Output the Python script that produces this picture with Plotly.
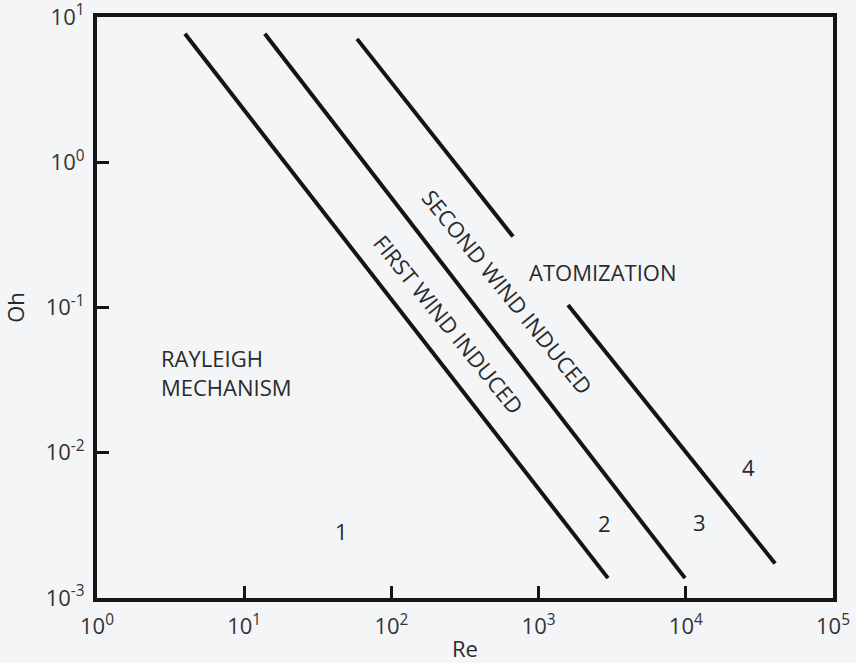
import plotly.graph_objects as go

# Regime boundary lines (Re, Oh endpoints)
line1_re = [3.96, 2960]
line1_oh = [7.66, 1.37e-3]
line2_re = [13.8, 9880]
line2_oh = [7.66, 1.37e-3]
line3a_re = [58.4, 670]
line3a_oh = [7.07, 0.308]
line3b_re = [1585, 40400]
line3b_oh = [0.104, 1.73e-3]

x_tickvals = [1, 10, 100, 1000, 10000, 100000]
x_ticktext = ["10<sup>0</sup>", "10<sup>1</sup>", "10<sup>2</sup>", "10<sup>3</sup>", "10<sup>4</sup>", "10<sup>5</sup>"]
y_tickvals = [0.001, 0.01, 0.1, 1, 10]
y_ticktext = ["10<sup>-3</sup>", "10<sup>-2</sup>", "10<sup>-1</sup>", "10<sup>0</sup>", "10<sup>1</sup>"]

# Region labels: (text, log10 Re, log10 Oh, angle, xanchor)
labels = [
    ("ATOMIZATION", 3.438, -0.757, 0, "center"),
    ("RAYLEIGH<br>MECHANISM", 0.421, -1.448, 0, "left"),
    ("1", 1.658, -2.542, 0, "center"),
    ("2", 3.451, -2.487, 0, "center"),
    ("3", 4.096, -2.480, 0, "center"),
    ("4", 4.423, -2.097, 0, "center"),
    ("SECOND WIND INDUCED", 2.792, -0.894, 51, "center"),
    ("FIRST WIND INDUCED", 2.391, -1.113, 51, "center"),
]

FONT = "Open Sans"
INK = "#141414"
TXT = "#2a2a2a"
FS = 22

fig = go.Figure()
for xs, ys in [(line1_re, line1_oh), (line2_re, line2_oh), (line3a_re, line3a_oh), (line3b_re, line3b_oh)]:
    fig.add_trace(go.Scatter(x=xs, y=ys, mode="lines", line=dict(color=INK, width=4),
                             showlegend=False, hoverinfo="skip"))

for text, lx, ly, ang, xa in labels:
    fig.add_annotation(x=lx, y=ly, xref="x", yref="y", text=text, showarrow=False,
                       textangle=ang, xanchor=xa, align="left",
                       font=dict(family=FONT, size=FS, color=TXT))

fig.update_layout(
    width=856, height=663,
    margin=dict(l=97, r=23, t=17, b=65),
    paper_bgcolor="#f4f5f7", plot_bgcolor="#f4f5f7",
    font=dict(family=FONT, size=FS, color=TXT),
)
fig.update_xaxes(type="log", range=[0, 5], tickvals=x_tickvals, ticktext=x_ticktext,
                 automargin=False, ticklabeloverflow="allow",
                 showgrid=False, zeroline=False, showline=True, linewidth=4, linecolor=INK,
                 mirror=True, ticks="inside", ticklen=12, tickwidth=3, tickcolor=INK,
                 ticklabelstandoff=6,
                 title=dict(text="Re", standoff=8, font=dict(family=FONT, size=FS, color=TXT)),
                 tickfont=dict(family=FONT, size=FS, color="#333"))
fig.update_yaxes(type="log", range=[-3, 1], tickvals=y_tickvals, ticktext=y_ticktext,
                 automargin=False, ticklabeloverflow="allow",
                 showgrid=False, zeroline=False, showline=True, linewidth=4, linecolor=INK,
                 mirror=True, ticks="inside", ticklen=12, tickwidth=3, tickcolor=INK,
                 ticklabelstandoff=4,
                 title=dict(text="Oh", standoff=18, font=dict(family=FONT, size=FS, color=TXT)),
                 tickfont=dict(family=FONT, size=FS, color="#333"))

fig.write_html("out.html")
